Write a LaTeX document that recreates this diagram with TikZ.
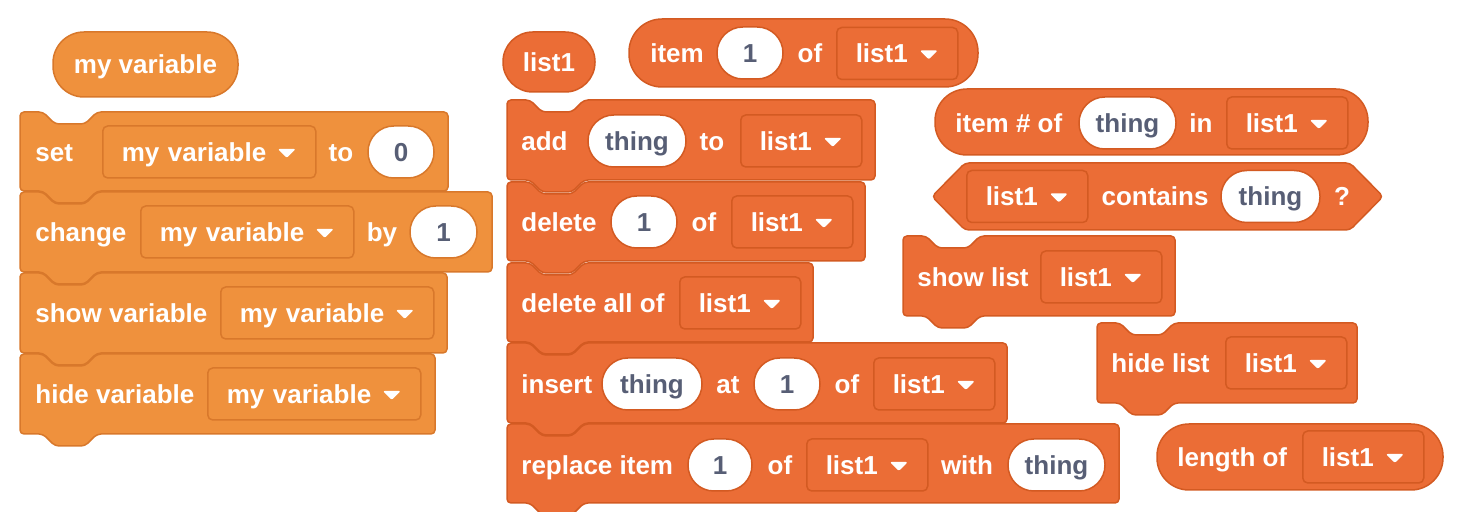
\documentclass[tikz,border=0pt]{standalone}
\usepackage{fontspec}
\setmainfont{Liberation Sans}
\usepackage{tikz}
\definecolor{varfill}{HTML}{EF913D}
\definecolor{varline}{HTML}{D8782B}
\definecolor{listfill}{HTML}{EB6D36}
\definecolor{listline}{HTML}{D35A22}
\definecolor{slottext}{HTML}{575E75}

% stack block with notch on top and tab below: style, left, top, right, bottom
\newcommand{\stackblock}[5]{%
  \draw[#1] (#2,{#3+20}) -- (#2,#3) -- ({#2+23},#3) -- ({#2+35},{#3+12}) -- ({#2+65},{#3+12})
    -- ({#2+77},#3) -- (#4,#3) -- (#4,#5) -- ({#2+77},#5) -- ({#2+65},{#5+12})
    -- ({#2+35},{#5+12}) -- ({#2+23},#5) -- (#2,#5) -- cycle;}

\begin{document}
\begin{tikzpicture} [
    x=0.5pt, y=-0.5pt,
    every node/.style={font=\fontsize{13pt}{15pt}\selectfont\bfseries, text height=9.3pt, text depth=0pt},
    word/.style={text=white, inner sep=0pt},
    varblk/.style={fill=varfill, draw=varline, line width=0.75pt, rounded corners=2pt},
    listblk/.style={fill=listfill, draw=listline, line width=0.75pt, rounded corners=2pt},
    menu/.style={rectangle, rounded corners=2.5pt, line width=0.75pt, minimum height=26pt,
        inner xsep=9.5pt, inner ysep=0pt, text width=#1, align=left, text=white, anchor=west,
        path picture={\fill[white, rounded corners=1pt] ([shift={(-38,-3)}]path picture bounding box.east)
            -- ++(18,0) -- ++(-9,9) -- cycle;}},
    varmenu/.style={menu=87.5pt, fill=varfill, draw=varline},
    listmenu/.style={menu=41.5pt, fill=listfill, draw=listline},
    slot/.style={rectangle, rounded corners=12.9pt, fill=white, text=slottext, minimum height=26pt,
        minimum width=#1, inner sep=0pt, line width=0.75pt},
    varslot/.style={slot=#1, draw=varline},
    listslot/.style={slot=#1, draw=listline},
    reporter/.style={rectangle, rounded corners=15.5pt, text=white, line width=0.75pt, inner sep=0pt}
    ]
    \useasboundingbox (0,0) rectangle (1458,512);

    %Variables
    \node[reporter, fill=varfill, draw=varline, minimum width=92.5pt, minimum height=32.5pt]
        (myvar) at (145.5,64.5) {my variable};

    \stackblock{varblk}{20}{112}{448}{191}
    \node[word, anchor=west] (set)     at (35,152)  {set};
    \node[varmenu]           (setvar)  at (102,152) {my variable};
    \node[word]              (setto)   at (341,152) {to};
    \node[varslot=33pt]      (setval)  at (401,152) {0};

    \stackblock{varblk}{20}{192}{492}{272}
    \node[word, anchor=west] (change)    at (35,232)    {change};
    \node[varmenu]           (changevar) at (140,232)   {my variable};
    \node[word]              (changeby)  at (382,232)   {by};
    \node[varslot=33.5pt]    (changeval) at (443.5,232) {1};

    \stackblock{varblk}{20}{273}{447}{353}
    \node[word, anchor=west] (showvar)     at (35,313)  {show variable};
    \node[varmenu]           (showvarmenu) at (220,313) {my variable};

    \stackblock{varblk}{20}{354}{435}{434}
    \node[word, anchor=west] (hidevar)     at (35,394)  {hide variable};
    \node[varmenu]           (hidevarmenu) at (207,394) {my variable};

    %Lists
    \node[reporter, fill=listfill, draw=listline, minimum width=46pt, minimum height=30pt, rounded corners=14.9pt]
        (list) at (549,62) {list1};

    \draw[listblk, rounded corners=16.5pt] (629,19) rectangle (978,87);
    \node[word]          (item)     at (677,53)   {item};
    \node[listslot=33pt] (itemidx)  at (750,53)   {1};
    \node[word]          (itemof)   at (810,53)   {of};
    \node[listmenu]      (itemlist) at (836,53.5) {list1};

    \stackblock{listblk}{507}{100}{875}{180}
    \node[word, anchor=west] (add)      at (521,141) {add};
    \node[listslot=49pt]     (addthing) at (637,141) {thing};
    \node[word]              (addto)    at (712,141) {to};
    \node[listmenu]          (addlist)  at (740,141) {list1};

    \stackblock{listblk}{507}{182}{865}{261}
    \node[word, anchor=west] (delete)     at (521,222) {delete};
    \node[listslot=33pt]     (deleteidx)  at (644,222) {1};
    \node[word]              (deleteof)   at (704,222) {of};
    \node[listmenu]          (deletelist) at (731,222) {list1};

    \stackblock{listblk}{507}{263}{813}{342}
    \node[word, anchor=west] (deleteall)     at (521,303) {delete all of};
    \node[listmenu]          (deletealllist) at (679,303) {list1};

    \stackblock{listblk}{507}{343}{1007}{423}
    \node[word, anchor=west] (insert)      at (521,384) {insert};
    \node[listslot=50pt]     (insertthing) at (652,384) {thing};
    \node[word]              (insertat)    at (728,384) {at};
    \node[listslot=33pt]     (insertidx)   at (787,384) {1};
    \node[word]              (insertof)    at (847,384) {of};
    \node[listmenu]          (insertlist)  at (873,384) {list1};

    \stackblock{listblk}{507}{424}{1119}{503}
    \node[word, anchor=west] (replace)      at (521,465)    {replace item};
    \node[listslot=32pt]     (replaceidx)   at (720,465)    {1};
    \node[word]              (replaceof)    at (780,465)    {of};
    \node[listmenu]          (replacelist)  at (806,465)    {list1};
    \node[word]              (replacewith)  at (967,465)    {with};
    \node[listslot=48.5pt]   (replacething) at (1056.5,465) {thing};

    \draw[listblk, rounded corners=16pt] (935,89) rectangle (1368,155);
    \node[word, anchor=west] (itemnum)      at (955,123)    {item \# of};
    \node[listslot=48.5pt]   (itemnumthing) at (1127.5,123) {thing};
    \node[word]              (itemnumin)    at (1201,123)   {in};
    \node[listmenu]          (itemnumlist)  at (1226,123)   {list1};

    \draw[listblk] (932,196.5) -- (965,163) -- (1350,163) -- (1383,196.5) -- (1350,230) -- (965,230) -- cycle;
    \node[listmenu]        (containslist)  at (966,196.5)    {list1};
    \node[word]            (contains)      at (1155,196.5)   {contains};
    \node[listslot=49.5pt] (containsthing) at (1270.5,196.5) {thing};
    \node[word]            (containsq)     at (1342,196.5)   {?};

    \stackblock{listblk}{903}{236}{1175}{316}
    \node[word, anchor=west] (showlist)     at (917,277)  {show list};
    \node[listmenu]          (showlistmenu) at (1040,277) {list1};

    \stackblock{listblk}{1097}{323}{1357}{403}
    \node[word, anchor=west] (hidelist)     at (1111,363) {hide list};
    \node[listmenu]          (hidelistmenu) at (1225,363) {list1};

    \draw[listblk, rounded corners=16pt] (1157,424) rectangle (1443,490);
    \node[word, anchor=west] (length)     at (1177,457) {length of};
    \node[listmenu]          (lengthlist) at (1302,457) {list1};
\end{tikzpicture}
\end{document}
